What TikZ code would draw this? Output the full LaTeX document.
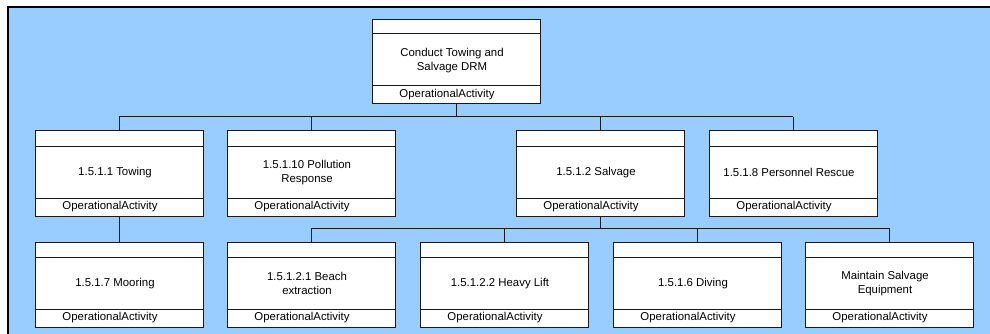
\documentclass[tikz,border=0pt]{standalone}
\usepackage{fontspec}
\setmainfont{Liberation Sans}
\usetikzlibrary{calc}
\definecolor{canvasblue}{HTML}{99CCFF}
\definecolor{boxline}{HTML}{1A1A1A}
\tikzset{
  actbox/.style={draw=boxline, fill=white, line width=1pt, rectangle,
    minimum width=168pt, minimum height=85pt, inner sep=0pt, outer sep=0pt,
    anchor=north west},
  divider/.style={draw=boxline, line width=1pt},
  bodytext/.style={font=\fontsize{11.4}{14}\selectfont, align=center, inner sep=0pt},
  stereo/.style={font=\fontsize{11.4}{14}\selectfont, inner sep=0pt},
  link/.style={draw=boxline, line width=1pt}
}
% one activity: name, left x, top y, height, header height, label
\newcommand{\activity}[6]{%
  \node[actbox, minimum height=#4pt] (#1) at (#2,#3) {};
  \draw[divider] ([yshift=-#5pt]#1.north west) -- ([yshift=-#5pt]#1.north east);
  \draw[divider] ([yshift=18pt]#1.south west) -- ([yshift=18pt]#1.south east);
  \node[bodytext] (#1-label) at ($([xshift=-8pt]#1.north)!0.5!([yshift=18pt]#1.south)+(0,#5/2+0.5)$) {#6};
  \node[stereo] (#1-kind) at ([xshift=-9pt,yshift=9pt]#1.south) {OperationalActivity};
}
\begin{document}
\begin{tikzpicture}[x=1pt, y=-1pt]
  \useasboundingbox (0,0) rectangle (990,334);
  % canvas with its frame
  \fill[canvasblue] (8,7) rectangle (990,334);
  \draw[black, line width=2pt] (8,334) -- (8,7) -- (990,7);

  % boxes
  \activity{root}{372}{20}{84}{14}{Conduct Towing and\\Salvage DRM}
  \activity{towing}{35}{131}{85}{15}{1.5.1.1 Towing}
  \activity{pollution}{227}{131}{85}{15}{1.5.1.10 Pollution\\Response}
  \activity{salvage}{516}{131}{85}{15}{1.5.1.2 Salvage}
  \activity{rescue}{709}{131}{85}{15}{1.5.1.8 Personnel Rescue}
  \activity{mooring}{35}{242}{85}{15}{1.5.1.7 Mooring}
  \activity{beach}{227}{242}{85}{15}{1.5.1.2.1 Beach\\extraction}
  \activity{heavy}{420}{242}{85}{15}{1.5.1.2.2 Heavy Lift}
  \activity{diving}{613}{242}{85}{15}{1.5.1.6 Diving}
  \activity{maintain}{805}{242}{85}{15}{Maintain Salvage\\Equipment}

  % bus lines
  \coordinate (busA) at (0,117);
  \coordinate (busB) at (0,228);

  \draw[link] (root.south) -- (root.south |- busA);
  \draw[link] (towing.north |- busA) -- (rescue.north |- busA);
  \foreach \c in {towing,pollution,salvage,rescue}
    \draw[link] (\c.north |- busA) -- (\c.north);

  \draw[link] (towing.south) -- (mooring.north);

  \draw[link] (salvage.south) -- (salvage.south |- busB);
  \draw[link] (beach.north |- busB) -- (maintain.north |- busB);
  \foreach \c in {beach,heavy,diving,maintain}
    \draw[link] (\c.north |- busB) -- (\c.north);
\end{tikzpicture}
\end{document}
